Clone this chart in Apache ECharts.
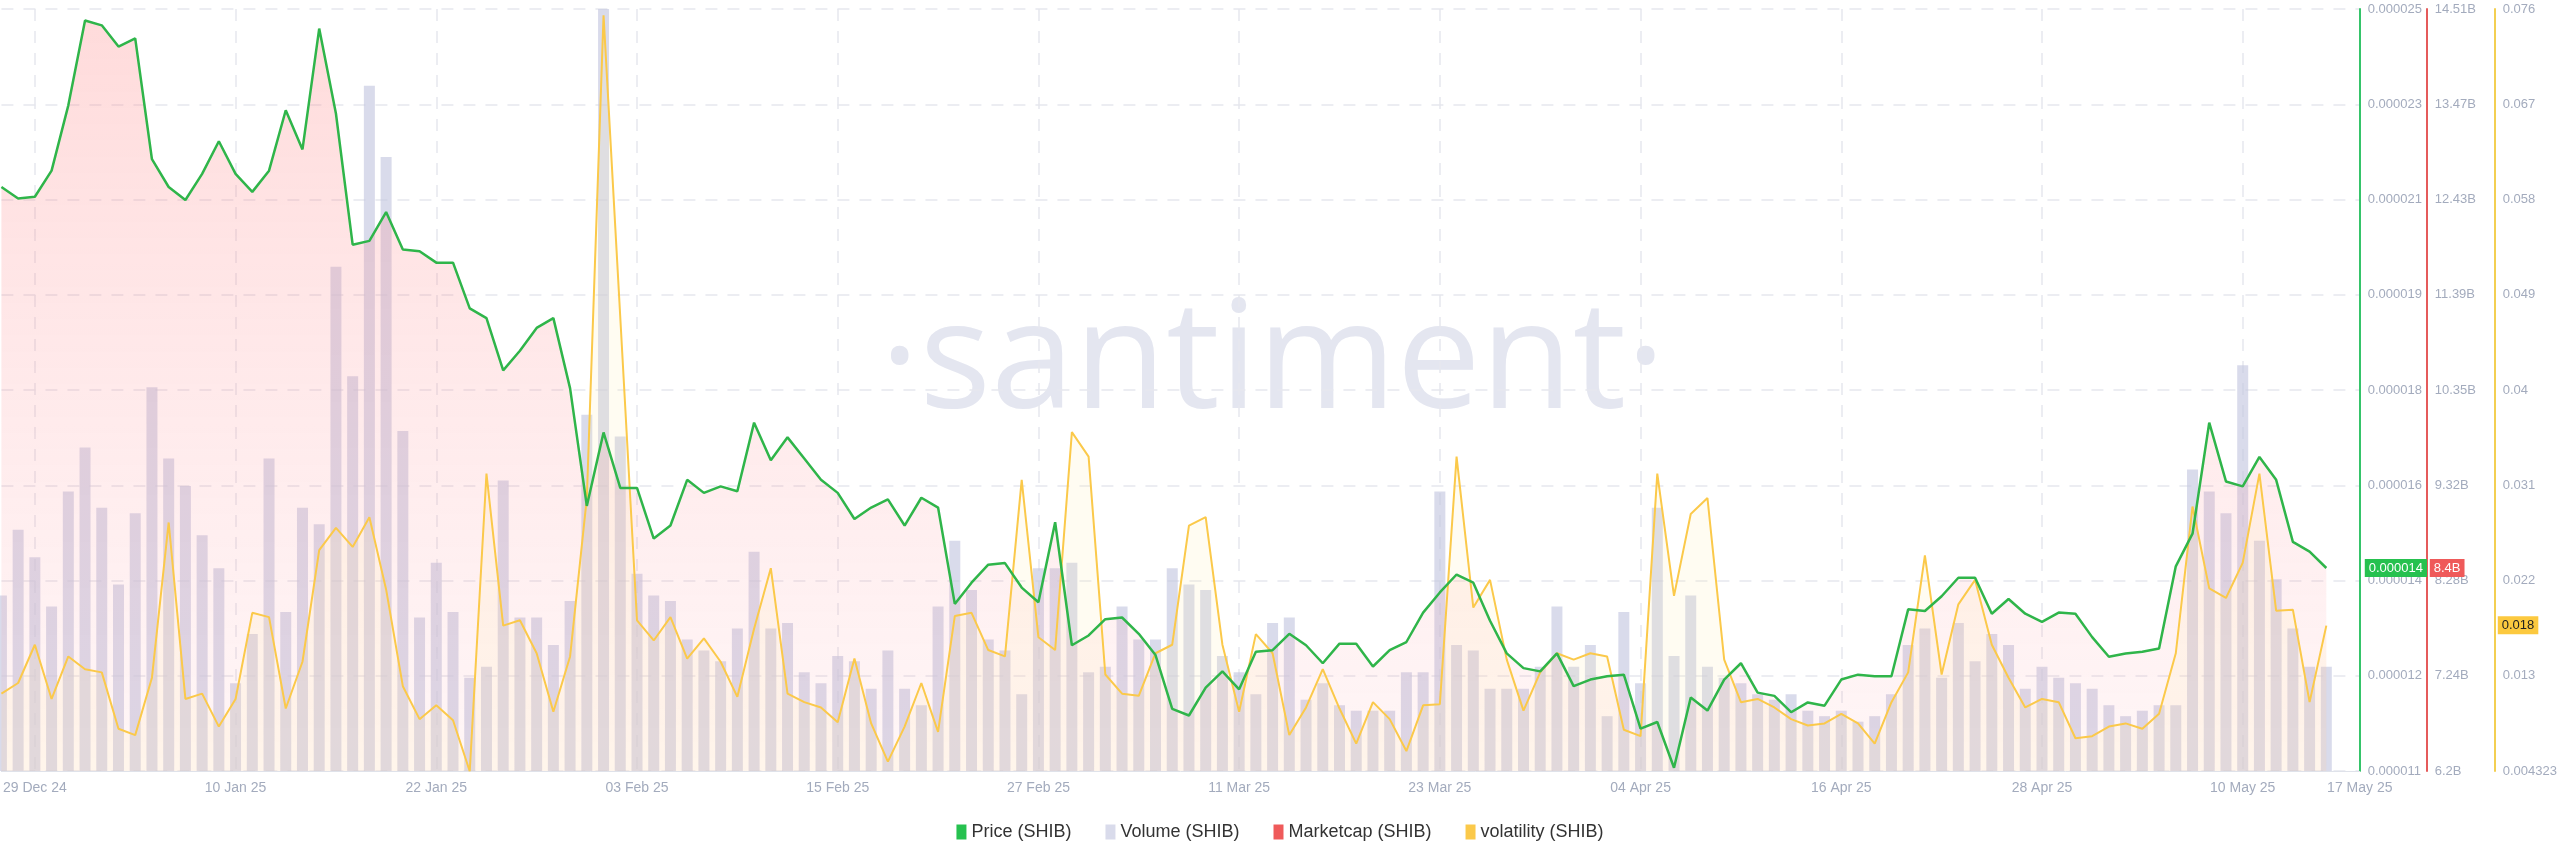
<!DOCTYPE html>
<html>
<head>
<meta charset="utf-8">
<script src="https://cdn.jsdelivr.net/npm/echarts@6/dist/echarts.min.js"></script>
<style>html,body{margin:0;padding:0;background:#fff}#chart{width:2560px;height:867px}</style>
</head>
<body>
<div id="chart"></div>
<script>
// daily categories 27 Dec 24 .. 17 May 25
const MONTHS = ['Jan','Feb','Mar','Apr','May','Jun','Jul','Aug','Sep','Oct','Nov','Dec'];
const dates = [];
for (let d = new Date(Date.UTC(2024, 11, 27)); d <= new Date(Date.UTC(2025, 4, 17)); d.setUTCDate(d.getUTCDate() + 1)) {
    dates.push(String(d.getUTCDate()).padStart(2, '0') + ' ' + MONTHS[d.getUTCMonth()] + ' ' + String(d.getUTCFullYear()).slice(2));
}

// price, in millionths of USD
const price = [21.73,21.52,21.55,22.03,23.23,24.79,24.70,24.31,24.46,22.24,
21.73,21.49,21.97,22.57,21.97,21.64,22.03,23.14,22.42,24.64,
23.08,20.67,20.74,21.27,20.58,20.55,20.34,20.34,19.50,19.32,
18.36,18.72,19.14,19.32,18.03,15.87,17.22,16.20,16.20,15.27,
15.51,16.35,16.11,16.23,16.14,17.40,16.71,17.13,16.74,16.35,
16.11,15.63,15.84,15.99,15.51,16.02,15.84,14.07,14.46,14.79,
14.82,14.37,14.10,15.57,13.31,13.49,13.79,13.82,13.52,13.13,
12.14,12.02,12.53,12.83,12.50,13.19,13.22,13.52,13.31,12.98,
13.34,13.34,12.92,13.22,13.37,13.91,14.28,14.61,14.46,13.76,
13.16,12.89,12.83,13.16,12.56,12.68,12.74,12.77,11.78,11.90,
11.06,12.35,12.11,12.68,12.98,12.44,12.38,12.08,12.26,12.20,
12.68,12.77,12.74,12.74,13.97,13.94,14.21,14.55,14.55,13.89,
14.16,13.89,13.74,13.91,13.89,13.46,13.10,13.16,13.19,13.25,
14.76,15.36,17.40,16.32,16.23,16.77,16.35,15.21,15.03,14.73];

// volume, billions USD
const volume = [0.32,0.44,0.39,0.30,0.51,0.59,0.48,0.34,0.47,0.70,
0.57,0.52,0.43,0.37,0.16,0.25,0.57,0.29,0.48,0.45,
0.92,0.72,1.25,1.12,0.62,0.28,0.38,0.29,0.17,0.19,
0.53,0.28,0.28,0.23,0.31,0.65,1.39,0.61,0.36,0.32,
0.31,0.24,0.22,0.20,0.26,0.40,0.26,0.27,0.18,0.16,
0.21,0.20,0.15,0.22,0.15,0.12,0.30,0.42,0.33,0.24,
0.22,0.14,0.37,0.37,0.38,0.18,0.19,0.30,0.24,0.24,
0.37,0.34,0.33,0.21,0.18,0.14,0.27,0.28,0.13,0.16,
0.12,0.11,0.11,0.11,0.18,0.18,0.51,0.23,0.22,0.15,
0.15,0.15,0.19,0.30,0.19,0.23,0.10,0.29,0.16,0.48,
0.21,0.32,0.19,0.17,0.16,0.14,0.13,0.14,0.11,0.10,
0.11,0.09,0.10,0.14,0.23,0.26,0.17,0.27,0.20,0.25,
0.23,0.15,0.19,0.17,0.16,0.15,0.12,0.10,0.11,0.12,
0.12,0.55,0.51,0.47,0.74,0.42,0.35,0.26,0.19,0.19];

// marketcap, billions USD
const marketcap = [12.57,12.44,12.46,12.75,13.46,14.39,14.33,14.10,14.19,12.87,
12.57,12.43,12.71,13.07,12.71,12.52,12.75,13.41,12.98,14.30,
13.37,11.94,11.98,12.30,11.89,11.87,11.74,11.74,11.25,11.14,
10.57,10.78,11.03,11.14,10.37,9.09,9.89,9.29,9.29,8.73,
8.88,9.38,9.23,9.30,9.25,10.00,9.59,9.84,9.61,9.38,
9.23,8.95,9.07,9.16,8.88,9.18,9.07,8.02,8.25,8.45,
8.47,8.20,8.04,8.91,7.57,7.68,7.86,7.87,7.70,7.46,
6.88,6.81,7.11,7.29,7.09,7.50,7.52,7.70,7.57,7.38,
7.59,7.59,7.34,7.52,7.61,7.93,8.15,8.34,8.25,7.84,
7.48,7.32,7.29,7.48,7.13,7.20,7.23,7.25,6.66,6.73,
6.24,7.00,6.86,7.20,7.38,7.05,7.02,6.84,6.95,6.91,
7.20,7.25,7.23,7.23,7.96,7.95,8.11,8.31,8.31,7.92,
8.08,7.92,7.83,7.93,7.92,7.66,7.45,7.48,7.50,7.54,
8.43,8.79,10.00,9.36,9.30,9.63,9.38,8.70,8.59,8.41];

const volatility = [0.0116,0.0126,0.0162,0.0111,0.0151,0.0139,0.0136,0.0083,0.0077,0.0131,
0.0277,0.0111,0.0116,0.0085,0.0111,0.0192,0.0188,0.0102,0.0146,0.0251,
0.0272,0.0254,0.0282,0.0214,0.0123,0.0092,0.0105,0.0091,0.0043,0.0323,
0.0180,0.0185,0.0154,0.0099,0.0151,0.0300,0.0754,0.0470,0.0185,0.0166,
0.0188,0.0149,0.0168,0.0146,0.0113,0.0177,0.0234,0.0116,0.0108,0.0103,
0.0089,0.0149,0.0088,0.0052,0.0085,0.0126,0.0080,0.0189,0.0192,0.0157,
0.0151,0.0317,0.0169,0.0157,0.0362,0.0339,0.0134,0.0116,0.0114,0.0154,
0.0162,0.0274,0.0282,0.0162,0.0099,0.0172,0.0154,0.0077,0.0103,0.0139,
0.0102,0.0069,0.0108,0.0092,0.0062,0.0105,0.0106,0.0339,0.0197,0.0223,
0.0148,0.0100,0.0136,0.0154,0.0148,0.0154,0.0151,0.0082,0.0076,0.0323,
0.0208,0.0285,0.0300,0.0148,0.0108,0.0111,0.0103,0.0092,0.0086,0.0088,
0.0097,0.0088,0.0069,0.0108,0.0136,0.0246,0.0134,0.0200,0.0223,0.0162,
0.0131,0.0103,0.0111,0.0108,0.0074,0.0076,0.0085,0.0088,0.0083,0.0097,
0.0154,0.0292,0.0215,0.0206,0.0239,0.0323,0.0194,0.0195,0.0108,0.0180];

// axis tick labels (Santiment spaces 8 equal steps between min and max)
const priceTicks = ['0.000011','0.000012','0.000014','0.000016','0.000018','0.000019','0.000021','0.000023','0.000025'];
const mcapTicks = ['6.2B','7.24B','8.28B','9.32B','10.35B','11.39B','12.43B','13.47B','14.51B'];
const volaTicks = ['0.004323','0.013','0.022','0.031','0.04','0.049','0.058','0.067','0.076'];
const PRICE_MIN = 11, PRICE_MAX = 25;
const MCAP_MIN = 6.2, MCAP_MAX = 14.51;
const VOLA_MIN = 0.004323, VOLA_MAX = 0.076;

// map to 0..8 so ticks land exactly on the printed labels
const norm = (arr, lo, hi) => arr.map(v => (v - lo) / (hi - lo) * 8);

const GRID_C = '#e6e8ee';
const LABEL_C = '#a3abbd';
const tickShown = (i) => (i - 2) % 12 === 0 || i === dates.length - 1;

function sideAxis(color, offset, ticks, showSplit) {
    return {
        type: 'value', position: 'right', offset: offset, min: 0, max: 8, interval: 1,
        axisLine: {show: true, lineStyle: {color: color, width: 2}},
        axisTick: {show: false},
        splitLine: {show: showSplit, lineStyle: {color: GRID_C, type: [12, 10], width: 1.5}},
        axisLabel: {color: LABEL_C, fontSize: 13, fontFamily: 'Liberation Sans', margin: 8,
            formatter: v => ticks[Math.round(v)]}
    };
}

function tag(text, bg, fg, dist, value) {
    return {
        silent: true, symbol: 'none', lineStyle: {width: 1, color: 'rgba(0,0,0,0)'},
        label: {show: true, position: 'end', formatter: text, backgroundColor: bg, color: fg, fontSize: 13,
            fontFamily: 'Liberation Sans', padding: [3, 4, 2, 4], distance: dist},
        data: [{yAxis: value}]
    };
}

const chart = echarts.init(document.getElementById('chart'));
const lastOf = a => a[a.length - 1];

chart.setOption({
    animation: false,
    graphic: [{
        type: 'text', left: 880, top: 290, z: 0, silent: true,
        style: {text: '·santiment·', fill: '#e4e6f0', font: '150px "Open Sans"'}
    }],
    grid: {left: 0, right: 197, top: 9, bottom: 96},
    legend: {
        bottom: 21, left: 'center', itemWidth: 10, itemHeight: 15, itemGap: 34, icon: 'rect',
        textStyle: {color: '#333', fontSize: 18, fontFamily: 'Liberation Sans'},
        data: ['Price (SHIB)', 'Volume (SHIB)', 'Marketcap (SHIB)', 'volatility (SHIB)']
    },
    xAxis: {
        type: 'category', data: dates, boundaryGap: false,
        axisLine: {lineStyle: {color: '#dfe2ea'}},
        axisTick: {show: false},
        axisLabel: {color: LABEL_C, fontSize: 14, fontFamily: 'Liberation Sans', margin: 10, interval: tickShown,
            showMaxLabel: true},
        splitLine: {show: true, interval: tickShown, lineStyle: {color: GRID_C, type: [12, 10], width: 1.5}}
    },
    yAxis: [
        sideAxis('#35c46a', 0, priceTicks, true),
        sideAxis('#e55b5b', 67, mcapTicks, false),
        sideAxis('#f3cf52', 135, volaTicks, false),
        {type: 'value', show: false, min: 0, max: 1.39}
    ],
    series: [
        {
            name: 'Volume (SHIB)', type: 'bar', yAxisIndex: 3, data: volume, barWidth: 11,
            itemStyle: {color: 'rgba(196,200,224,0.65)'}, z: 1
        },
        {
            name: 'Marketcap (SHIB)', type: 'line', yAxisIndex: 1, data: norm(marketcap, MCAP_MIN, MCAP_MAX),
            showSymbol: false, lineStyle: {width: 0}, itemStyle: {color: '#ef5a5a'},
            areaStyle: {color: new echarts.graphic.LinearGradient(0, 0, 0, 1, [
                {offset: 0, color: 'rgba(255,120,120,0.38)'},
                {offset: 1, color: 'rgba(255,150,160,0.12)'}])},
            markLine: tag('8.4B', '#ef5a5a', '#fff', 70, lastOf(norm(marketcap, MCAP_MIN, MCAP_MAX))), z: 2
        },
        {
            name: 'volatility (SHIB)', type: 'line', yAxisIndex: 2, data: norm(volatility, VOLA_MIN, VOLA_MAX),
            showSymbol: false, lineStyle: {width: 2, color: '#fbc94a'}, itemStyle: {color: '#fbc94a'},
            areaStyle: {color: 'rgba(255,236,170,0.22)'},
            markLine: tag('0.018', '#fcc93f', '#222', 138, lastOf(norm(volatility, VOLA_MIN, VOLA_MAX))), z: 3
        },
        {
            name: 'Price (SHIB)', type: 'line', yAxisIndex: 0, data: norm(price, PRICE_MIN, PRICE_MAX),
            showSymbol: false, lineStyle: {width: 2.5, color: '#2fb54a'}, itemStyle: {color: '#26c14f'},
            markLine: tag('0.000014', '#26c14f', '#fff', 5, lastOf(norm(price, PRICE_MIN, PRICE_MAX))), z: 4
        }
    ]
});
</script>
</body>
</html>
